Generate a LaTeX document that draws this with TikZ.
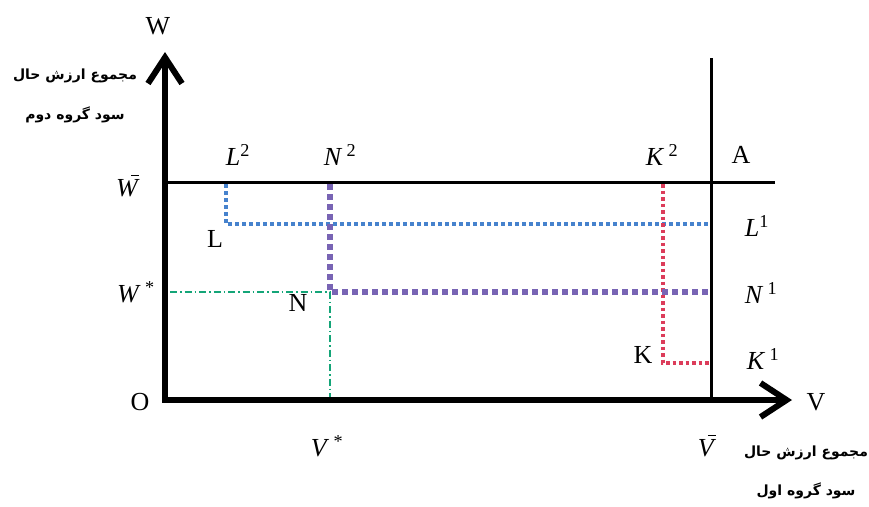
\documentclass[tikz,border=0pt]{standalone}
\usepackage{fontspec}
\setmainfont{Liberation Serif}
\newfontfamily\fafont[Script=Arabic]{DejaVu Sans}
\TeXXeTstate=1
\usetikzlibrary{arrows.meta}
\definecolor{lblue}{RGB}{70,130,205}
\definecolor{lpurple}{RGB}{120,100,180}
\definecolor{lred}{RGB}{220,60,90}
\definecolor{lgreen}{RGB}{20,165,120}
\newcommand\barW{\textit{W}\llap{\raisebox{0.78em}{\rule{0.3em}{0.9pt}}\kern0.02em}}
\newcommand\barV{\textit{V}\llap{\raisebox{0.78em}{\rule{0.3em}{0.9pt}}\kern0.02em}}
\begin{document}
\begin{tikzpicture}[x=1pt,y=-1pt,
  lbl/.style={font=\fontsize{26}{28}\selectfont, inner sep=0pt},
  fa/.style={font=\fontsize{14}{16}\selectfont\fafont\bfseries, inner sep=0pt},
  axis/.style={line width=5.5pt, -{Straight Barb[length=26pt,width=34pt,line width=6pt]}},
  frame/.style={line width=3pt},
  bluedot/.style={lblue, line width=4pt, dash pattern=on 4pt off 3pt},
  purpledot/.style={lpurple, line width=6pt, dash pattern=on 6pt off 4pt},
  reddot/.style={lred, line width=4pt, dash pattern=on 3.5pt off 3pt},
  greendash/.style={lgreen, line width=1.3pt, dash pattern=on 7pt off 3pt on 1.5pt off 3pt}]
\useasboundingbox (0,0) rectangle (869,506);
% key points
\coordinate (O0) at (165,400);
\coordinate (Ytip) at (165,52);
\coordinate (Xtip) at (792,400);
\coordinate (Wl) at (163,182);
\coordinate (Wr) at (775,182);
\coordinate (At) at (711,58);
\coordinate (Ab) at (711,400);
\coordinate (Lt) at (226,184);
\coordinate (Lc) at (226,224);
\coordinate (Lr) at (709,224);
\coordinate (Nt) at (330,184);
\coordinate (Nc) at (330,292);
\coordinate (Nr) at (709,292);
\coordinate (Ws) at (170,292);
\coordinate (Vs) at (330,400);
\coordinate (Kt) at (663,184);
\coordinate (Kc) at (663,363);
\coordinate (Kr) at (709,363);
% dotted guides
\draw[greendash] (Ws) -- (Nc) -- (Vs);
\draw[bluedot] (Lt) -- (Lc) -- (Lr);
\draw[reddot] (Kt) -- (Kc) -- (Kr);
\draw[purpledot] (Nt) -- (Nc) -- (Nr);
% frame lines
\draw[frame] (Wl) -- (Wr);
\draw[frame] (At) -- (Ab);
% axes
\draw[axis] (O0) -- (Ytip);
\draw[axis] ([xshift=-2.75pt]O0) -- (Xtip);
% labels
\node[lbl] (W) at (158,26) {W};
\node[lbl] (V) at (816,402) {V};
\node[lbl] (O) at (140,402) {O};
\node[lbl] (L2) at (238,155) {\textit{L}\textsuperscript{2}};
\node[lbl] (N2) at (340,155) {\textit{N}\,\textsuperscript{2}};
\node[lbl] (K2) at (662,155) {\textit{K}\,\textsuperscript{2}};
\node[lbl] (A) at (741,155) {A};
\node[lbl] (WB) at (128,186) {\barW};
\node[lbl] (WS) at (136,292) {\textit{W}\,\textsuperscript{*}};
\node[lbl] (L) at (215,239) {L};
\node[lbl] (N) at (298,303) {N};
\node[lbl] (K) at (643,355) {K};
\node[lbl] (L1) at (757,226) {\textit{L}\textsuperscript{1}};
\node[lbl] (N1) at (761,293) {\textit{N}\,\textsuperscript{1}};
\node[lbl] (K1) at (763,359) {\textit{K}\,\textsuperscript{1}};
\node[lbl] (VS) at (327,446) {\textit{V}\,\textsuperscript{*}};
\node[lbl] (VB) at (707,446) {\barV};
\node[fa] (T1) at (75,76) {\beginR مجموع ارزش حال\endR};
\node[fa] (T2) at (75,115) {\beginR سود گروه دوم\endR};
\node[fa] (B1) at (806,453) {\beginR مجموع ارزش حال\endR};
\node[fa] (B2) at (806,491) {\beginR سود گروه اول\endR};
\end{tikzpicture}
\end{document}
